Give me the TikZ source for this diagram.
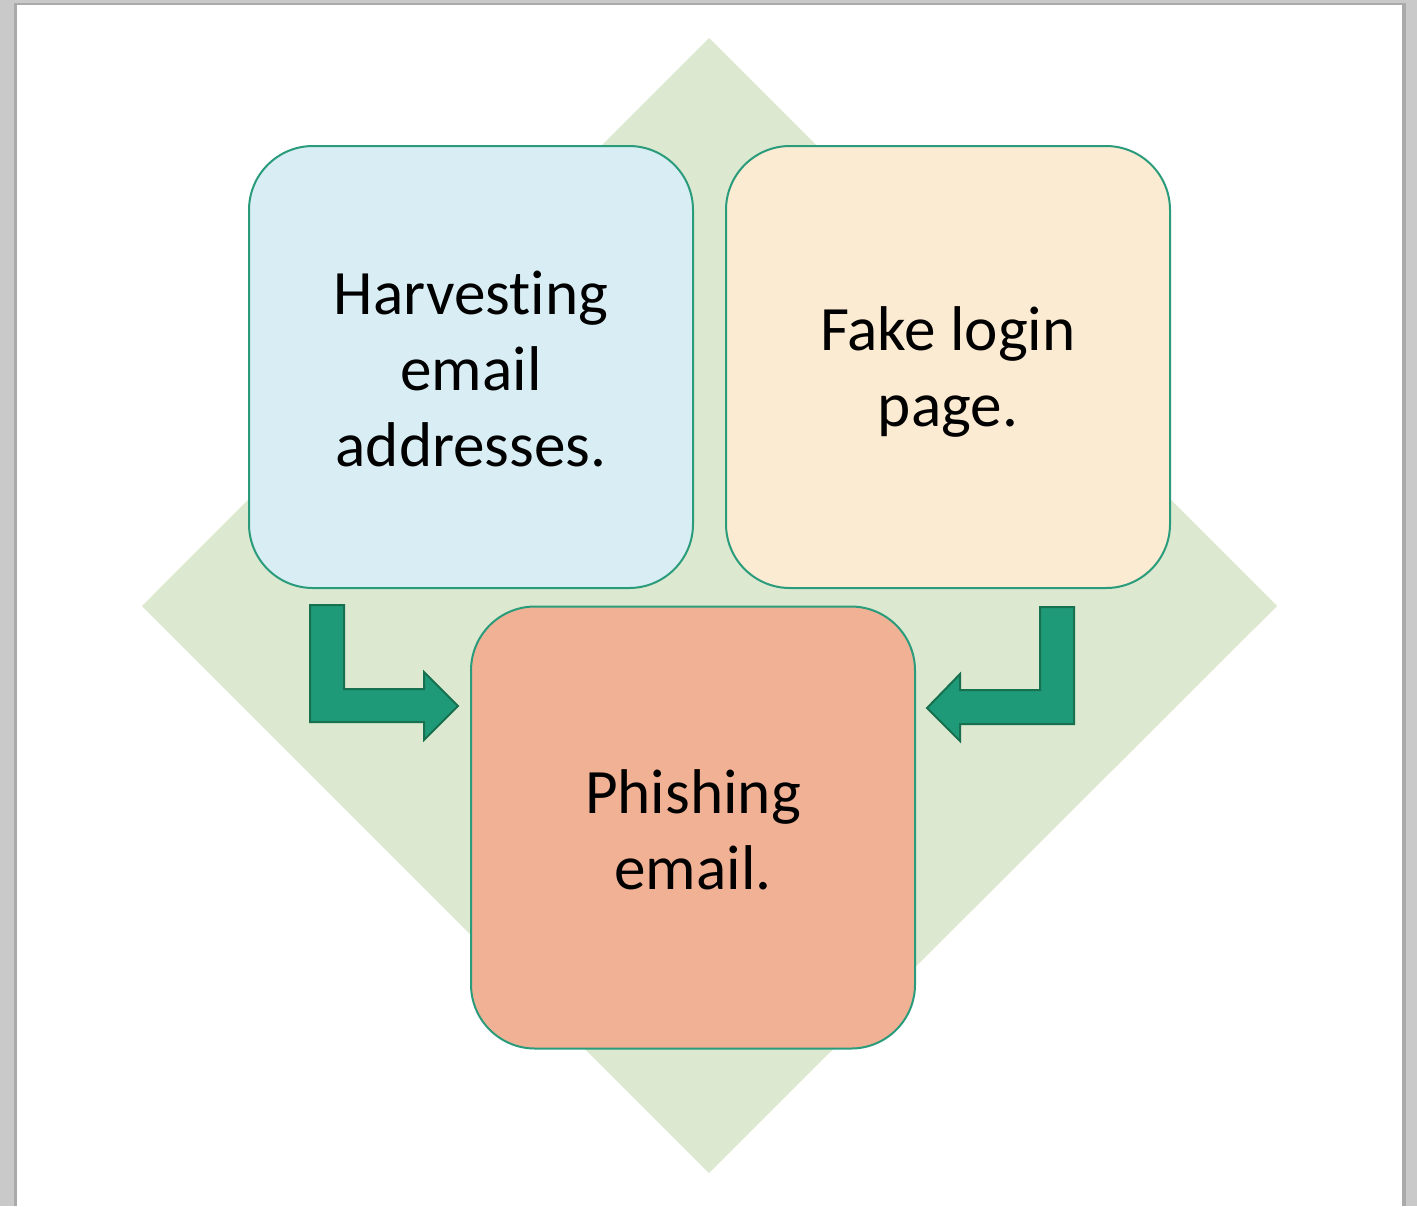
\documentclass[tikz,border=0pt]{standalone}
\usepackage{fontspec}
\setmainfont{Carlito}[Ligatures={NoCommon}]
\definecolor{pagegray}{HTML}{C8C9C8}
\definecolor{shadowgray}{HTML}{A9AAA9}
\definecolor{diamondgreen}{HTML}{DCE8CF}
\definecolor{boxline}{HTML}{2A9C7C}
\definecolor{bluefill}{HTML}{D8EEF4}
\definecolor{orangefill}{HTML}{FBEBD2}
\definecolor{salmonfill}{HTML}{F0B195}
\definecolor{arrowfill}{HTML}{1E9A78}
\definecolor{arrowline}{HTML}{17704F}
\tikzset{
  card/.style={draw=boxline, line width=1pt, rounded corners=32pt, minimum width=222pt, minimum height=221pt, inner sep=0pt, align=center, font=\fontsize{31.6}{38}\selectfont},
  bentarrow/.style={fill=arrowfill, draw=arrowline, line width=1pt, line join=miter}
}
\begin{document}
\begin{tikzpicture}[x=0.5pt,y=-0.5pt]
\useasboundingbox (0,0) rectangle (1417,1206);
% page background
\fill[pagegray] (0,0) rectangle (1417,1206);
\fill[shadowgray] (14,3) rectangle (1406,1206);
\fill[white] (17,5) rectangle (1402,1206);
% diamond
\fill[diamondgreen] (709,38) -- (1277,606) -- (709,1173) -- (142,606) -- cycle;
% cards
\node[card, fill=bluefill] (harvest) at (471,367) {};
\node[align=center, font=\fontsize{31.6}{38}\selectfont] (harvesttext) at (471,368.5) {Harvesting\\email\\addresses.};
\node[card, fill=orangefill] (fake) at (948,367) {};
\node[align=center, font=\fontsize{31.6}{38}\selectfont] (faketext) at (948,371.5) {Fake login\\page.};
\node[card, fill=salmonfill] (phish) at (693,827.5) {};
\node[align=center, font=\fontsize{31.6}{38}\selectfont] (phishtext) at (693,829.5) {Phishing\\email.};
% bent arrows
\draw[bentarrow] (310,605) -- (344,605) -- (344,689) -- (424,689) -- (424,672) -- (458,706) -- (424,740) -- (424,722) -- (310,722) -- cycle;
\draw[bentarrow] (1074,607) -- (1040,607) -- (1040,690) -- (960,690) -- (960,674) -- (927,708) -- (960,741) -- (960,724) -- (1074,724) -- cycle;
\end{tikzpicture}
\end{document}
